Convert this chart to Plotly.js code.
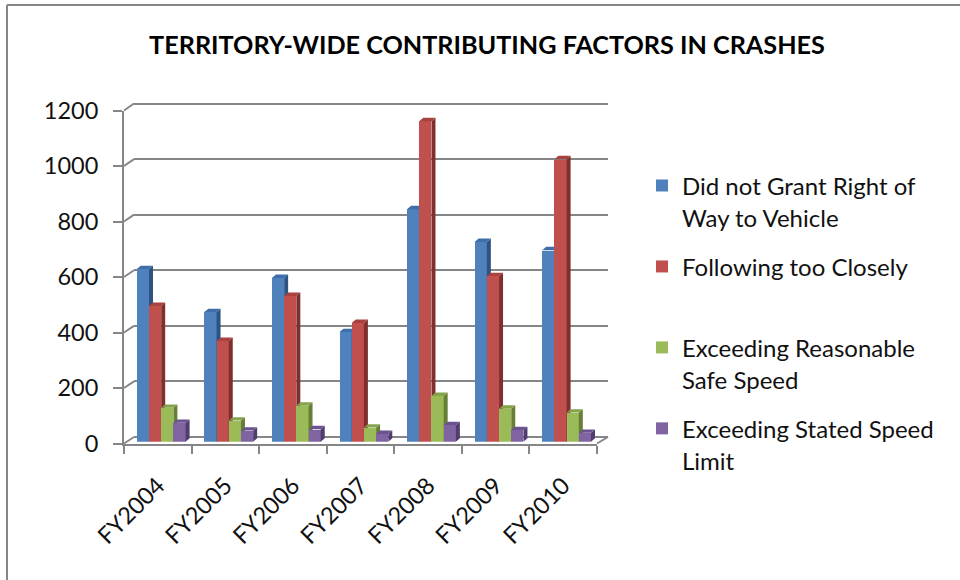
<!DOCTYPE html>
<html>
<head>
<meta charset="utf-8">
<script src="https://cdn.plot.ly/plotly-3.0.1.min.js"></script>
<style>html,body{margin:0;padding:0;background:#fff}#chart{width:960px;height:580px}</style>
</head>
<body>
<div id="chart"></div>
<script>
const categories = ['FY2004','FY2005','FY2006','FY2007','FY2008','FY2009','FY2010'];
const didNotGrant = [622,467,590,395,838,720,690];
const followingTooClosely = [489,363,525,428,1155,597,1018];
const exceedingReasonable = [122,76,130,51,165,119,105];
const exceedingStated = [68,40,45,28,60,42,32];
const seriesNames = [
  'Did not Grant Right of<br>Way to Vehicle',
  'Following too Closely<br>&nbsp;',
  'Exceeding Reasonable<br>Safe Speed',
  'Exceeding Stated Speed<br>Limit'
];
const frontColors = ['#4f81bd','#c0504d','#9bbb59','#8064a2'];
const sideColors = ['#2d5382','#7f2f2d','#667f37','#503d6e'];
const topColors = ['#3f6ea8','#a8423f','#85a34a','#6b5290'];
const yTicks = [0,200,400,600,800,1000,1200];

const W = 960, H = 580;
const GRAY = '#868686';
const pxX = (a,b) => [a/W, b/W];
const pxY = (top,bottom) => [(H-bottom)/H, (H-top)/H];
const FRONT = {l:124, r:597, t:110.5, b:443.5};
const BACK = {l:134, r:608, t:103.5, b:437};
const BARS = {t:108.7, b:441.7};
const catPx = (FRONT.r-FRONT.l)/categories.length;
const unitPx = (FRONT.b-FRONT.t)/1200;
const barW = 12.2/catPx;
const shift = 3.4/catPx;
const dx = 4/catPx, dy = 3.4/unitPx;
const pad = 10/unitPx;
const indices = categories.map((_,i)=>i);
const values = [didNotGrant, followingTooClosely, exceedingReasonable, exceedingStated];

const traces = [];
traces.push({type:'scatter',mode:'markers',x:categories,y:categories.map(()=>null),xaxis:'x',yaxis:'y',showlegend:false,hoverinfo:'skip'});

const layout = {
  width:W,height:H,margin:{l:0,r:0,t:0,b:0},
  paper_bgcolor:'#fff',plot_bgcolor:'rgba(0,0,0,0)',
  font:{family:'Lato, Carlito, sans-serif',color:'#000'},
  title:{text:'TERRITORY-WIDE CONTRIBUTING FACTORS IN CRASHES',
    font:{family:'Lato, sans-serif',size:25.2,color:'#000',weight:700},
    x:487/W,xanchor:'center',y:1-45/H,yanchor:'middle'},
  bargap:0,
  showlegend:true,
  legend:{x:642/W,y:1-163/H,xanchor:'left',yanchor:'top',valign:'top',
    font:{family:'Lato, sans-serif',size:24.6,color:'#111'},
    tracegroupgap:14,itemclick:false,itemdoubleclick:false,bgcolor:'rgba(0,0,0,0)',itemwidth:30},
  xaxis:{type:'category',categoryorder:'array',categoryarray:categories,domain:pxX(FRONT.l,FRONT.r),
    range:[-0.5,6.5],autorange:false,tickson:'boundaries',ticks:'outside',ticklen:8,tickwidth:2,tickcolor:GRAY,
    showline:true,linecolor:GRAY,linewidth:2,showgrid:false,zeroline:false,tickangle:-45,
    tickfont:{family:'Lato, sans-serif',size:23.5,color:'#111'},ticklabelstandoff:17,anchor:'y',fixedrange:true},
  yaxis:{domain:pxY(FRONT.t,FRONT.b),range:[0,1200],autorange:false,tickmode:'array',tickvals:yTicks,
    ticks:'outside',ticklen:9,tickwidth:2,tickcolor:GRAY,showline:true,linecolor:GRAY,linewidth:2,
    showgrid:false,zeroline:false,tickfont:{family:'Lato, sans-serif',size:23.5,color:'#111'},
    ticklabelstandoff:10,anchor:'x',fixedrange:true},
  xaxis2:{domain:pxX(BACK.l,BACK.r),range:[0,1],autorange:false,visible:false,anchor:'y2',fixedrange:true},
  yaxis2:{domain:pxY(BACK.t-10,BACK.b+10),range:[-pad,1200+pad],autorange:false,tickmode:'array',tickvals:yTicks,
    showgrid:true,gridcolor:GRAY,gridwidth:2,showticklabels:false,ticks:'',showline:false,zeroline:false,
    anchor:'x2',fixedrange:true},
  shapes:[
    {type:'line',xref:'paper',yref:'paper',x0:7/W,x1:1,y0:1-5/H,y1:1-5/H,line:{color:GRAY,width:2}},
    {type:'line',xref:'paper',yref:'paper',x0:7/W,x1:7/W,y0:0,y1:1-5/H,line:{color:GRAY,width:2}},
    {type:'line',xref:'paper',yref:'paper',x0:FRONT.r/W,x1:BACK.r/W,y0:1-FRONT.b/H,y1:1-BACK.b/H,line:{color:GRAY,width:2}}
  ]
};
yTicks.forEach(t=>{
  const yf = FRONT.b - t*unitPx, yb = BACK.b - t*(BACK.b-BACK.t)/1200;
  layout.shapes.push({type:'line',xref:'paper',yref:'paper',x0:FRONT.l/W,x1:BACK.l/W,y0:1-yf/H,y1:1-yb/H,
    line:{color:GRAY,width:2},layer:'below'});
});
traces.push({type:'scatter',mode:'markers',x:[0],y:[null],xaxis:'x2',yaxis:'y2',showlegend:false,hoverinfo:'skip'});

values.forEach((vals,s)=>{
  const n = s+3, xa='x'+n, ya='y'+n;
  layout['xaxis'+n]={domain:pxX(FRONT.l,FRONT.r),range:[-0.5,6.5],autorange:false,visible:false,anchor:ya,fixedrange:true};
  layout['yaxis'+n]={domain:pxY(BARS.t,BARS.b),range:[0,1200],autorange:false,visible:false,anchor:xa,fixedrange:true};
  const offset = -2*barW + s*barW + shift;
  traces.push({type:'bar',name:`<span style="font-size:24px">${seriesNames[s].replace('<br>','</span><br><span style="font-size:24px">')}</span>`,
    legendgroup:'g'+s,x:indices,y:vals,width:barW,offset:offset,
    marker:{color:frontColors[s],line:{width:0}},xaxis:xa,yaxis:ya,hoverinfo:'y'});
  const sideX=[],sideY=[],topX=[],topY=[];
  vals.forEach((v,i)=>{
    const xl=i+offset, xr=xl+barW;
    sideX.push(xr,xr+dx,xr+dx,xr,xr,null); sideY.push(0,dy,v+dy,v,0,null);
    topX.push(xl,xl+dx,xr+dx,xr,xl,null); topY.push(v,v+dy,v+dy,v,v,null);
  });
  traces.push({type:'scatter',mode:'lines',x:sideX,y:sideY,fill:'toself',fillcolor:sideColors[s],line:{width:0,color:sideColors[s]},xaxis:xa,yaxis:ya,showlegend:false,hoverinfo:'skip',legendgroup:'g'+s});
  traces.push({type:'scatter',mode:'lines',x:topX,y:topY,fill:'toself',fillcolor:topColors[s],line:{width:0,color:topColors[s]},xaxis:xa,yaxis:ya,showlegend:false,hoverinfo:'skip',legendgroup:'g'+s});
});

Plotly.newPlot('chart',traces,layout,{displayModeBar:false,responsive:false});
</script>
</body>
</html>
